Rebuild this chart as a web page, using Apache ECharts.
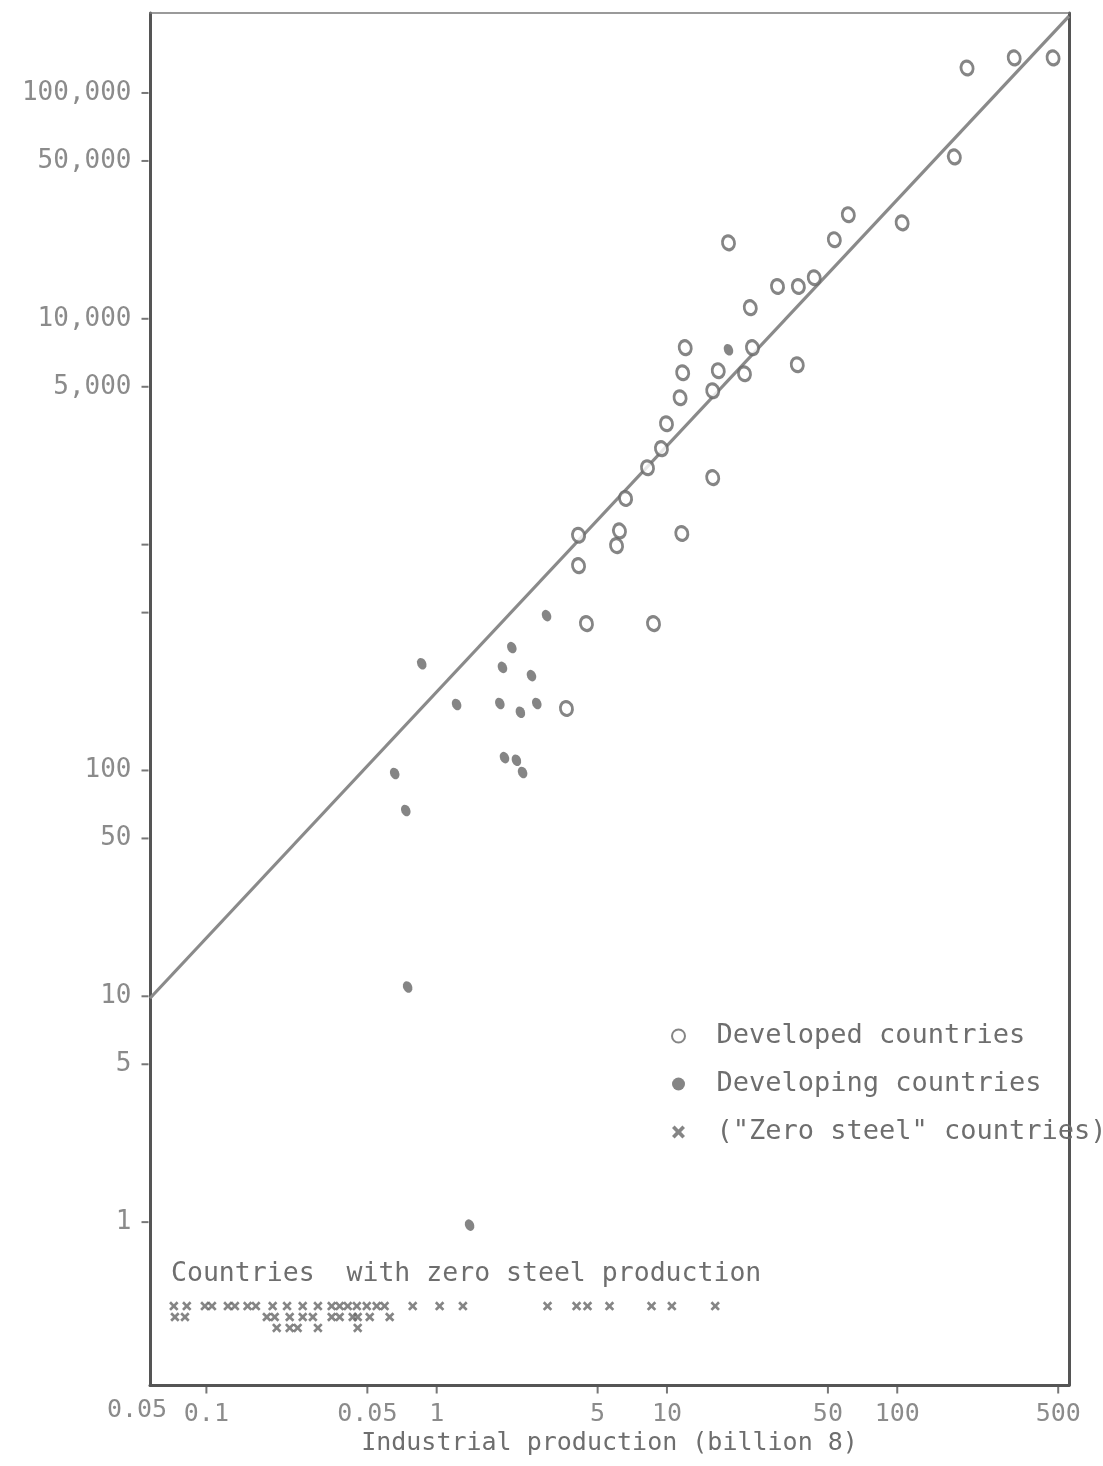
<!DOCTYPE html>
<html><head><meta charset="utf-8">
<script src="https://cdn.jsdelivr.net/npm/echarts@6/dist/echarts.min.js"></script>
<style>html,body{margin:0;padding:0;background:#fff}#c{width:1103px;height:1466px}</style>
</head><body><div id="c"></div>
<script>
// ---- data ----
const developed = [[201,129000],[322,143000],[475,143000],[177,52100],[105,26600],[61.3,28900],[53.3,22400],[18.5,21700],[30.2,13900],[37.2,13900],[43.6,15200],[23.0,11200],[12.0,7450],[23.5,7450],[11.7,5770],[16.7,5890],[21.7,5710],[36.8,6260],[15.8,4800],[11.4,4470],[9.95,3430],[9.46,2660],[8.23,2190],[6.61,1600],[6.22,1150],[6.04,990],[11.6,1120],[4.13,1100],[4.13,807],[4.47,447],[8.74,447],[3.66,188],[15.8,1980]];
const developing = [[18.5,7290],[3.00,485],[0.861,297],[2.12,350],[1.93,286],[2.58,263],[1.22,196],[1.88,198],[2.31,181],[2.72,198],[1.97,114],[2.22,111],[2.36,98],[0.657,97],[0.734,66.5],[0.748,11.0],[1.39,0.97]];
const zeroRow1X = [0.0722,0.0822,0.0985,0.1057,0.124,0.133,0.151,0.164,0.194,0.224,0.262,0.305,0.350,0.379,0.411,0.450,0.497,0.549,0.594,0.787,1.03,1.30,3.03,4.05,4.52,5.63,8.57,10.5,16.2];
const zeroRow2X = [0.073,0.0807,0.183,0.198,0.230,0.262,0.290,0.350,0.379,0.432,0.454,0.512,0.625];
const zeroRow3X = [0.202,0.230,0.249,0.305,0.454];
const zeroRowY = [0.425, 0.38, 0.34];
const regression = [[0.0569, 9.8],[557, 219000]];
const xTickValues = [0.05, 0.1, 0.5, 1, 5, 10, 50, 100, 500];
const xTickLabels = ['0.05','0.1','0.05','1','5','10','50','100','500'];
const yTickValues = [100000, 50000, 10000, 5000, 1000, 500, 100, 50, 10, 5, 1];
const yTickLabels = ['100,000','50,000','10,000','5,000','','','100','50','10','5','1'];
const seriesNames = ['Developed countries','Developing countries','("Zero steel" countries)'];
const xAxisName = 'Industrial production (billion 8)';
const noteText = 'Countries  with zero steel production';

// ---- chart ----
const X_MIN = 0.0569, X_MAX = 557, Y_MIN = 0.19, Y_MAX = 226000;
const GRAY = '#6e6e6e';
const FONT = '"DejaVu Sans Mono", "Liberation Mono", monospace';

const zeroSteel = [].concat(
  zeroRow1X.map(x => [x, zeroRowY[0]]),
  zeroRow2X.map(x => [x, zeroRowY[1]]),
  zeroRow3X.map(x => [x, zeroRowY[2]])
);

const hiddenAxis = {
  axisTick: {show: false}, axisLabel: {show: false},
  splitLine: {show: false}, minorTick: {show: false}, minorSplitLine: {show: false}
};

const chart = echarts.init(document.getElementById('c'), null, {renderer: 'canvas'});
chart.setOption({
  animation: false,
  backgroundColor: '#fff',
  grid: {left: 150, right: 34, top: 13, bottom: 81, show: false},
  title: {
    text: noteText, left: 166, top: 1256,
    textStyle: {fontFamily: FONT, fontSize: 26.5, fontWeight: 'normal', color: GRAY}
  },
  legend: {
    data: seriesNames, orient: 'vertical', left: 666, top: 1016,
    itemWidth: 66, itemHeight: 13, itemGap: 18,
    textStyle: {fontFamily: FONT, fontSize: 27, color: GRAY, lineHeight: 30}
  },
  xAxis: [
    Object.assign({
      type: 'log', min: X_MIN, max: X_MAX, position: 'bottom',
      axisLine: {show: true, lineStyle: {color: '#555', width: 3}},
      name: xAxisName, nameLocation: 'middle', nameGap: 46,
      nameTextStyle: {fontFamily: FONT, fontSize: 25, color: GRAY}
    }, hiddenAxis),
    Object.assign({
      type: 'log', min: X_MIN, max: X_MAX, position: 'top',
      axisLine: {show: true, lineStyle: {color: '#7a7a7a', width: 1.5}}
    }, hiddenAxis)
  ],
  yAxis: [
    Object.assign({
      type: 'log', min: Y_MIN, max: Y_MAX, position: 'left',
      axisLine: {show: true, lineStyle: {color: '#555', width: 3}}
    }, hiddenAxis),
    Object.assign({
      type: 'log', min: Y_MIN, max: Y_MAX, position: 'right',
      axisLine: {show: true, lineStyle: {color: '#555', width: 3}}
    }, hiddenAxis)
  ],
  series: [
    {
      type: 'line', name: 'fit', data: regression, showSymbol: false, symbol: 'none',
      lineStyle: {color: '#8a8a8a', width: 3.2}, silent: true, z: 2
    },
    {
      type: 'scatter', name: seriesNames[0], data: developed,
      symbol: 'circle', symbolSize: [12, 14], symbolRotate: 15,
      itemStyle: {color: '#fff', borderColor: '#666', borderWidth: 3}, z: 3
    },
    {
      type: 'scatter', name: seriesNames[1], data: developing,
      symbol: 'circle', symbolSize: [9, 12], symbolRotate: 25,
      itemStyle: {color: '#666'}, z: 3
    },
    {
      type: 'scatter', name: seriesNames[2], data: zeroSteel, clip: false,
      symbol: 'path://M0,2 L2,0 L5,3 L8,0 L10,2 L7,5 L10,8 L8,10 L5,7 L2,10 L0,8 L3,5 Z',
      symbolSize: 9.5, itemStyle: {color: '#666'}, z: 3
    },
    {
      type: 'scatter', name: 'xticks', clip: false, silent: true,
      data: xTickValues.map((v, i) => ({name: xTickLabels[i], value: [v, Y_MIN], symbolSize: v >= X_MIN ? [2, 7] : 0})),
      symbol: 'rect', symbolOffset: [0, 5], itemStyle: {color: '#555'},
      label: {show: true, position: 'bottom', distance: 8, formatter: '{b}', fontFamily: FONT, fontSize: 25, color: GRAY}
    },
    {
      type: 'scatter', name: 'yticks', clip: false, silent: true,
      data: yTickValues.map((v, i) => ({name: yTickLabels[i], value: [X_MIN, v]})),
      symbol: 'rect', symbolSize: [7, 2], symbolOffset: [-5, 0], itemStyle: {color: '#555'},
      label: {show: true, position: 'left', distance: 10, formatter: '{b}', fontFamily: FONT, fontSize: 26, color: GRAY}
    }
  ]
});
</script>
</body></html>
